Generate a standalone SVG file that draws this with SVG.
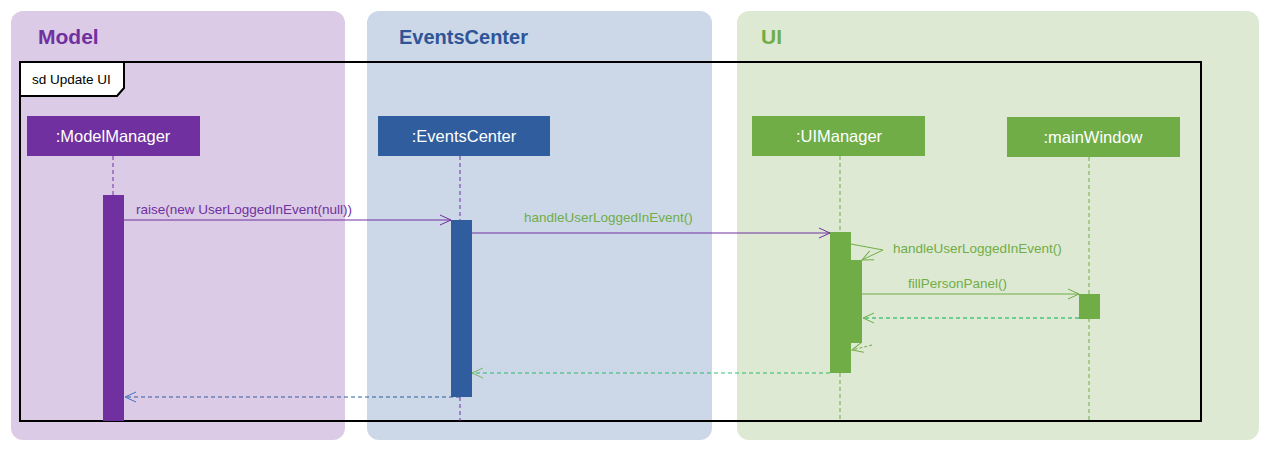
<svg xmlns="http://www.w3.org/2000/svg" width="1271" height="452" viewBox="0 0 1271 452">
<style>
.lane-title{font-family:"Liberation Sans",Arial,sans-serif;font-weight:bold;font-size:21px}
.obj{font-family:"Liberation Sans",Arial,sans-serif;font-size:16.5px;fill:#fff;text-anchor:middle}
.msg{font-family:"Liberation Sans",Arial,sans-serif;font-size:13.5px}
.life{stroke-width:1;stroke-dasharray:4 3;fill:none}
</style>
<defs>
<marker id="ap" markerWidth="14" markerHeight="12" refX="12" refY="6" orient="auto" markerUnits="userSpaceOnUse"><path d="M1,1 L12,6 L1,11" fill="none" stroke="#7030a0" stroke-width="1"/></marker>
<marker id="ag" markerWidth="14" markerHeight="12" refX="12" refY="6" orient="auto" markerUnits="userSpaceOnUse"><path d="M1,1 L12,6 L1,11" fill="none" stroke="#70ad47" stroke-width="1"/></marker>
<marker id="ab" markerWidth="14" markerHeight="12" refX="12" refY="6" orient="auto" markerUnits="userSpaceOnUse"><path d="M1,1 L12,6 L1,11" fill="none" stroke="#4472c4" stroke-width="1"/></marker>
</defs>
<rect width="1271" height="452" fill="#fff"/>
<g id="lanes">
<rect x="11" y="11" width="334" height="429" rx="12" fill="#dccbe6"/>
<text class="lane-title" x="38" y="44" fill="#7030a0">Model</text>
<rect x="367" y="11" width="345" height="429" rx="12" fill="#ccd8e8"/>
<text class="lane-title" x="399" y="44" fill="#2f5597" style="font-size:20px">EventsCenter</text>
<rect x="737" y="11" width="522" height="429" rx="12" fill="#dee9d3"/>
<text class="lane-title" x="761" y="44" fill="#70ad47">UI</text>
</g>
<g id="frame">
<rect x="20" y="62" width="1181" height="359" fill="none" stroke="#000" stroke-width="2"/>
<path d="M20,62 L124,62 L124,88 L117,96 L20,96 Z" fill="#fff" stroke="#000" stroke-width="2"/>
<text class="msg" x="32" y="84" fill="#000">sd Update UI</text>
</g>
<g id="modelManager">
<rect x="27" y="116" width="173" height="40" fill="#7030a0"/>
<text class="obj" x="113" y="142">:ModelManager</text>
<line class="life" x1="113" y1="156" x2="113" y2="195" stroke="#7030a0"/>
<rect x="103" y="195" width="21" height="226" fill="#7030a0"/>
</g>
<g id="eventsCenter">
<rect x="378" y="116" width="172" height="40" fill="#2f5d9e"/>
<text class="obj" x="464" y="142">:EventsCenter</text>
<line class="life" x1="460" y1="156" x2="460" y2="220" stroke="#7030a0"/>
<line class="life" x1="460" y1="397" x2="460" y2="421" stroke="#7030a0"/>
<rect x="451" y="220" width="21" height="177" fill="#2f5d9e"/>
</g>
<g id="uiManager">
<rect x="752" y="116" width="173" height="40" fill="#70ad47"/>
<text class="obj" x="839" y="142">:UIManager</text>
<line class="life" x1="840" y1="156" x2="840" y2="232" stroke="#70ad47"/>
<line class="life" x1="840" y1="373" x2="840" y2="421" stroke="#70ad47"/>
<rect x="830" y="232" width="21" height="141" fill="#70ad47"/>
<rect x="851" y="260" width="11" height="83" fill="#70ad47"/>
</g>
<g id="mainWindow">
<rect x="1007" y="117" width="173" height="40" fill="#70ad47"/>
<text class="obj" x="1093" y="143">:mainWindow</text>
<line class="life" x1="1089" y1="157" x2="1089" y2="421" stroke="#70ad47"/>
<rect x="1079" y="294" width="21" height="25" fill="#70ad47"/>
</g>
<g id="connectors">
<line x1="124" y1="220" x2="451" y2="220" stroke="#7030a0" stroke-width="1" marker-end="url(#ap)"/>
<text class="msg" x="136" y="214" fill="#7030a0">raise(new UserLoggedInEvent(null))</text>
<line x1="472" y1="233" x2="830" y2="233" stroke="#7030a0" stroke-width="1" marker-end="url(#ap)"/>
<text class="msg" x="524" y="222" fill="#70ad47">handleUserLoggedInEvent()</text>
<polyline points="851,244 883,250 862,260" fill="none" stroke="#70ad47" stroke-width="1" marker-end="url(#ag)"/>
<text class="msg" x="893" y="253" fill="#70ad47">handleUserLoggedInEvent()</text>
<line x1="862" y1="294" x2="1079" y2="294" stroke="#70ad47" stroke-width="1" marker-end="url(#ag)"/>
<text class="msg" x="908" y="288" fill="#70ad47">fillPersonPanel()</text>
<line x1="1079" y1="318" x2="863" y2="318" stroke="#00b050" stroke-width="1" stroke-dasharray="4 3" marker-end="url(#ag)"/>
<polyline points="872,345 852,350" fill="none" stroke="#70ad47" stroke-width="1" stroke-dasharray="3 2" marker-end="url(#ag)"/>
<line x1="830" y1="373" x2="472" y2="373" stroke="#00b050" stroke-width="1" stroke-dasharray="4 3" opacity="0.8" marker-end="url(#ag)"/>
<line x1="460" y1="397" x2="125" y2="397" stroke="#2f5d9e" stroke-width="1" stroke-dasharray="4 3" marker-end="url(#ab)"/>
</g>
</svg>
